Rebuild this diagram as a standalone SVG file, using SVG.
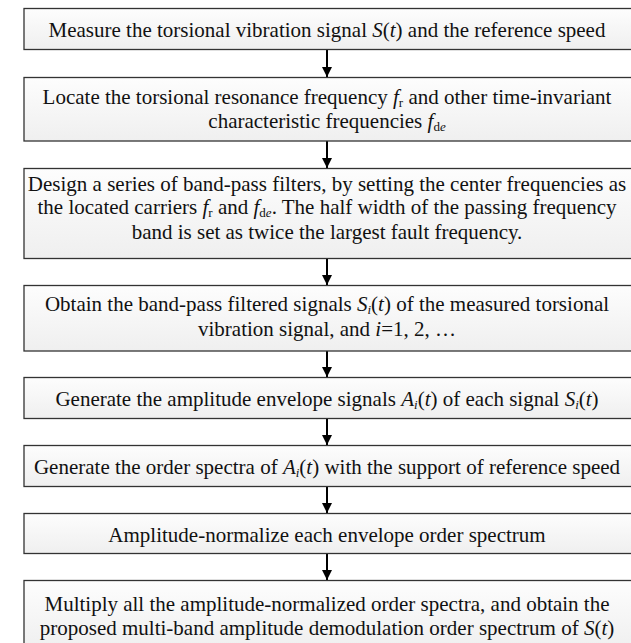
<svg xmlns="http://www.w3.org/2000/svg" width="631" height="643" viewBox="0 0 631 643">
<defs>
<linearGradient id="g" x1="0" y1="0" x2="0" y2="1">
<stop offset="0" stop-color="#fdfdfd"/>
<stop offset="1" stop-color="#efefef"/>
</linearGradient>
<marker id="ah" markerWidth="10" markerHeight="11" refX="10" refY="5" orient="auto" markerUnits="userSpaceOnUse">
<path d="M0,0 L10,5 L0,10 Z" fill="#000"/>
</marker>
</defs>
<style>
.box{fill:url(#g);stroke:#333;stroke-width:1.3}
.t{font-family:"Liberation Serif","Times New Roman",serif;font-size:21px;fill:#111;text-anchor:middle}
.s{font-size:13px}
.c{stroke:#000;stroke-width:2;fill:none}
</style>
<g id="connectors">
<line class="c" x1="327" y1="49" x2="327" y2="77" marker-end="url(#ah)"/>
<line class="c" x1="327" y1="141" x2="327" y2="168" marker-end="url(#ah)"/>
<line class="c" x1="327" y1="258" x2="327" y2="285" marker-end="url(#ah)"/>
<line class="c" x1="327" y1="351" x2="327" y2="377" marker-end="url(#ah)"/>
<line class="c" x1="327" y1="418" x2="327" y2="445" marker-end="url(#ah)"/>
<line class="c" x1="327" y1="486" x2="327" y2="513" marker-end="url(#ah)"/>
<line class="c" x1="327" y1="554" x2="327" y2="580" marker-end="url(#ah)"/>
</g>
<g id="n1">
<rect class="box" x="24" y="8.5" width="612" height="41"/>
<text class="t" x="327" y="37">Measure the torsional vibration signal <tspan font-style="italic">S</tspan>(<tspan font-style="italic">t</tspan>) and the reference speed</text>
</g>
<g id="n2">
<rect class="box" x="24" y="77.5" width="612" height="63.5"/>
<text class="t" x="327" y="104">Locate the torsional resonance frequency <tspan font-style="italic">f</tspan><tspan class="s" dy="3">r</tspan><tspan dy="-3"> and other time-invariant</tspan></text>
<text class="t" x="327" y="128">characteristic frequencies <tspan font-style="italic">f</tspan><tspan class="s" dy="3">d<tspan font-style="italic">e</tspan></tspan></text>
</g>
<g id="n3">
<rect class="box" x="24" y="168.5" width="612" height="90"/>
<text class="t" x="327" y="191">Design a series of band-pass filters, by setting the center frequencies as</text>
<text class="t" x="327" y="214">the located carriers <tspan font-style="italic">f</tspan><tspan class="s" dy="3">r</tspan><tspan dy="-3"> and </tspan><tspan font-style="italic">f</tspan><tspan class="s" dy="3">d<tspan font-style="italic">e</tspan></tspan><tspan dy="-3">. The half width of the passing frequency</tspan></text>
<text class="t" x="327" y="239">band is set as twice the largest fault frequency.</text>
</g>
<g id="n4">
<rect class="box" x="24" y="285.5" width="612" height="65.5"/>
<text class="t" x="327" y="311">Obtain the band-pass filtered signals <tspan font-style="italic">S<tspan class="s" dy="3">i</tspan></tspan><tspan dy="-3">(</tspan><tspan font-style="italic">t</tspan>) of the measured torsional</text>
<text class="t" x="327" y="336">vibration signal, and <tspan font-style="italic">i</tspan>=1, 2, …</text>
</g>
<g id="n5">
<rect class="box" x="24" y="377.5" width="612" height="41"/>
<text class="t" x="327" y="406">Generate the amplitude envelope signals <tspan font-style="italic">A<tspan class="s" dy="3">i</tspan></tspan><tspan dy="-3">(</tspan><tspan font-style="italic">t</tspan>) of each signal <tspan font-style="italic">S<tspan class="s" dy="3">i</tspan></tspan><tspan dy="-3">(</tspan><tspan font-style="italic">t</tspan>)</text>
</g>
<g id="n6">
<rect class="box" x="24" y="445.5" width="612" height="41"/>
<text class="t" x="327" y="474">Generate the order spectra of <tspan font-style="italic">A<tspan class="s" dy="3">i</tspan></tspan><tspan dy="-3">(</tspan><tspan font-style="italic">t</tspan>) with the support of reference speed</text>
</g>
<g id="n7">
<rect class="box" x="24" y="513.5" width="612" height="40"/>
<text class="t" x="327" y="542">Amplitude-normalize each envelope order spectrum</text>
</g>
<g id="n8">
<rect class="box" x="24" y="580.5" width="612" height="70"/>
<text class="t" x="327" y="611">Multiply all the amplitude-normalized order spectra, and obtain the</text>
<text class="t" x="327" y="635">proposed multi-band amplitude demodulation order spectrum of <tspan font-style="italic">S</tspan>(<tspan font-style="italic">t</tspan>)</text>
</g>
</svg>
